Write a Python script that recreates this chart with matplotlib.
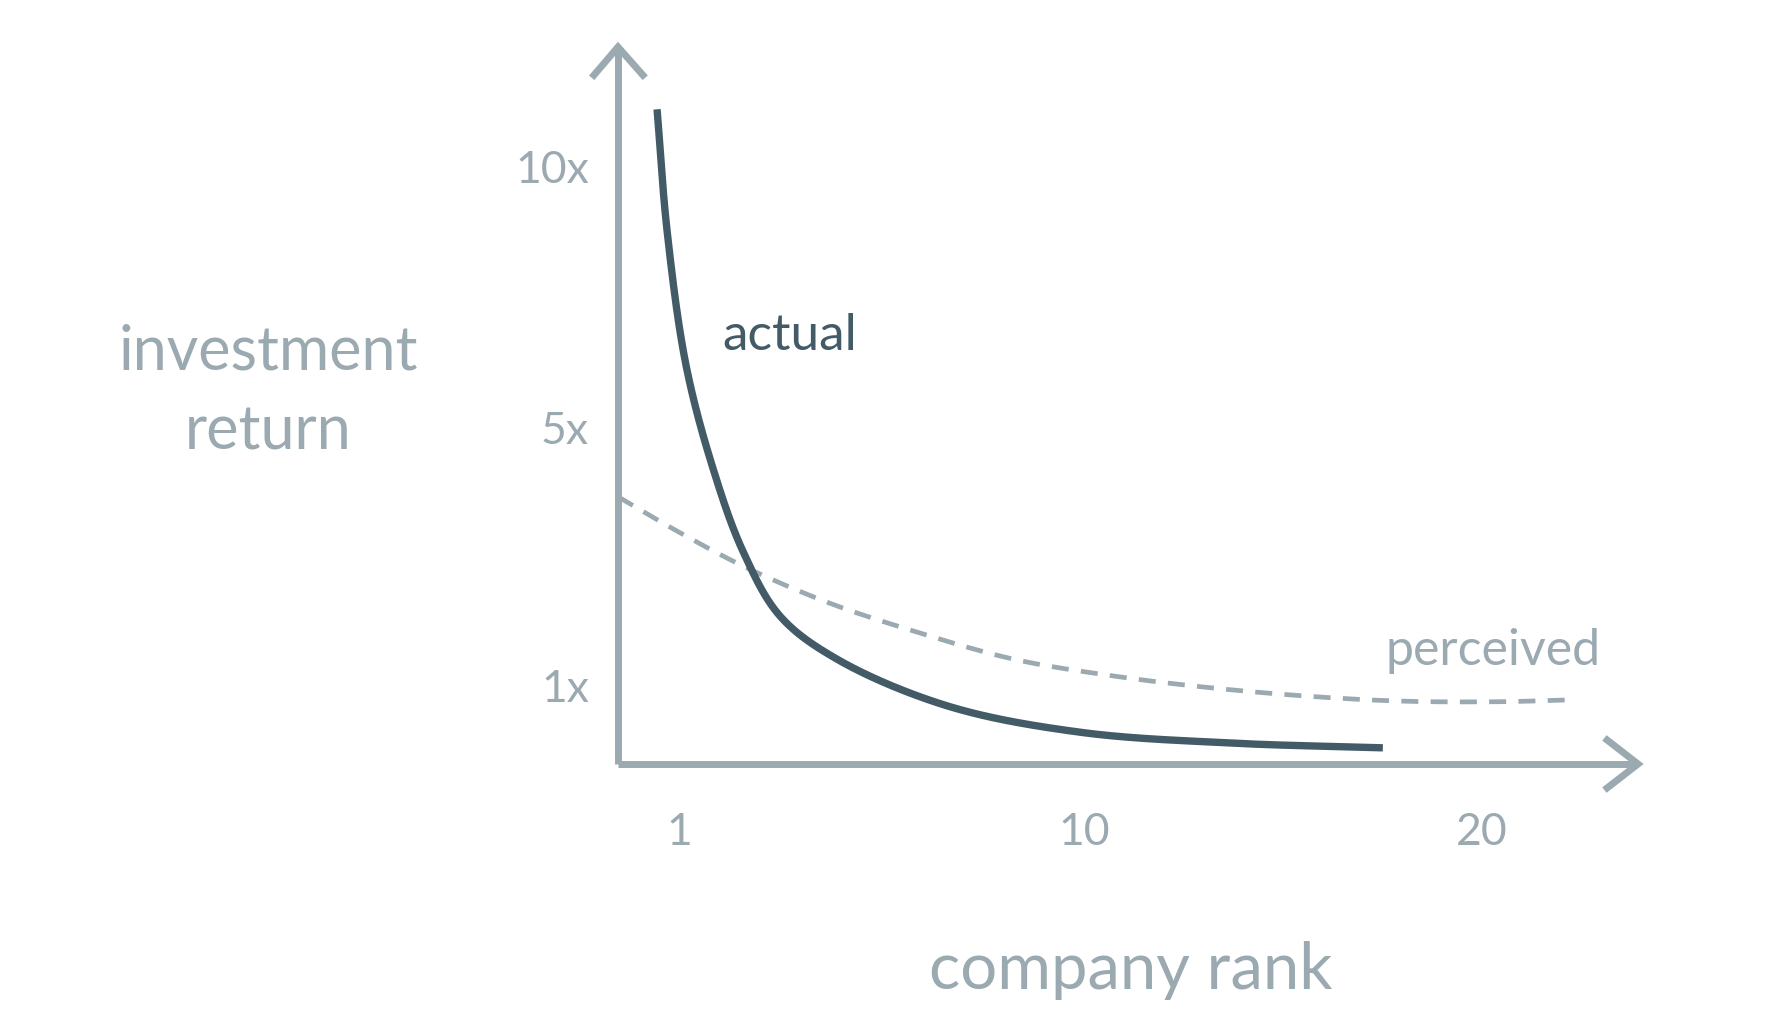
import matplotlib.pyplot as plt
import numpy as np

plt.rcParams['font.family'] = ['Lato', 'DejaVu Sans']

# curves (rank, return multiple in axis units)
actual_x = [0.48, 0.72, 1.17, 1.81, 2.52, 3.39, 4.74, 7.35, 10.5, 14.06, 17.66]
actual_y = [10.93, 8.88, 6.64, 4.92, 3.54, 2.47, 1.75, 0.97, 0.53, 0.35, 0.27]
perceived_x = [-0.44, 1.0, 2.56, 4.51, 6.55, 8.92, 11.28, 13.35, 15.72,
               18.09, 20.46, 22.04]
perceived_y = [4.46, 3.87, 3.29, 2.70, 2.22, 1.75, 1.47, 1.29, 1.14,
               1.05, 1.04, 1.07]

x_ticks = [1, 10.6, 20]
x_labels = ['1', '10', '20']
y_ticks = [1.32, 5.64, 10.0]
y_labels = ['1x', '5x', '10x']

AXIS = '#9ba9b1'
DARK = '#435b67'
W, H = 1774, 1020

fig = plt.figure(figsize=(W / 100, H / 100), dpi=100)
ax = fig.add_axes([618 / W, 255 / H, 1020 / W, 717 / H])
xmin, xmax = -0.445, 23.7
ymin, ymax = 0, 11.97
ax.set_xlim(xmin, xmax)
ax.set_ylim(ymin, ymax)
for s in ax.spines.values():
    s.set_visible(False)


def smooth_line(xs, ys, n=60):
    # centripetal catmull-rom through the read points, done in pixel space
    p = ax.transData.transform(np.column_stack([xs, ys]))
    p = np.vstack([2 * p[0] - p[1], p, 2 * p[-1] - p[-2]])
    out = []
    for i in range(1, len(p) - 2):
        P0, P1, P2, P3 = p[i - 1], p[i], p[i + 1], p[i + 2]
        t0 = 0.0
        t1 = t0 + np.linalg.norm(P1 - P0) ** 0.5
        t2 = t1 + np.linalg.norm(P2 - P1) ** 0.5
        t3 = t2 + np.linalg.norm(P3 - P2) ** 0.5
        t = np.linspace(t1, t2, n, endpoint=False)[:, None]
        A1 = (t1 - t) / (t1 - t0) * P0 + (t - t0) / (t1 - t0) * P1
        A2 = (t2 - t) / (t2 - t1) * P1 + (t - t1) / (t2 - t1) * P2
        A3 = (t3 - t) / (t3 - t2) * P2 + (t - t2) / (t3 - t2) * P3
        B1 = (t2 - t) / (t2 - t0) * A1 + (t - t0) / (t2 - t0) * A2
        B2 = (t3 - t) / (t3 - t1) * A2 + (t - t1) / (t3 - t1) * A3
        out.append((t2 - t) / (t2 - t1) * B1 + (t - t1) / (t2 - t1) * B2)
    out.append(p[-2][None, :])
    d = ax.transData.inverted().transform(np.vstack(out))
    return d[:, 0], d[:, 1]


ax.plot(*smooth_line(perceived_x, perceived_y), color=AXIS, lw=3.4,
        dashes=(3.6, 2.6), clip_on=False)
ax.plot(*smooth_line(actual_x, actual_y), color=DARK, lw=5.3,
        solid_capstyle='butt', clip_on=False)

# axes with chevron arrowheads
kw = dict(color=AXIS, lw=5, clip_on=False, solid_capstyle='butt')
ax.plot([xmin, xmin], [ymin, ymax], **kw)
ax.plot([xmin, xmax], [ymin, ymin], **kw)
ax.plot([xmin - 0.57, xmin, xmin + 0.59], [ymax - 0.47, ymax, ymax - 0.47],
        color=AXIS, lw=5, clip_on=False, solid_joinstyle='miter')
ax.plot([xmax - 0.73, xmax, xmax - 0.73], [ymin + 0.40, ymin, ymin - 0.40],
        color=AXIS, lw=5, clip_on=False, solid_joinstyle='miter')

ax.set_xticks(x_ticks, x_labels)
ax.set_yticks(y_ticks, y_labels)
ax.tick_params(length=0, colors=AXIS, labelsize=32)
ax.tick_params(axis='x', pad=34)
ax.tick_params(axis='y', pad=21)

ax.text(3.63, 7.16, 'actual', color=DARK, fontsize=37, ha='center', va='center')
ax.text(20.27, 1.90, 'perceived', color=AXIS, fontsize=36, ha='center', va='center')

fig.text(268 / W, 1 - 392 / H, 'investment\nreturn', color=AXIS, fontsize=44,
         ha='center', va='center', linespacing=1.5)
fig.text(1131 / W, 1 - 971 / H, 'company rank', color=AXIS, fontsize=47,
         ha='center', va='center')

fig.savefig('out.png', dpi=100, facecolor='white')
